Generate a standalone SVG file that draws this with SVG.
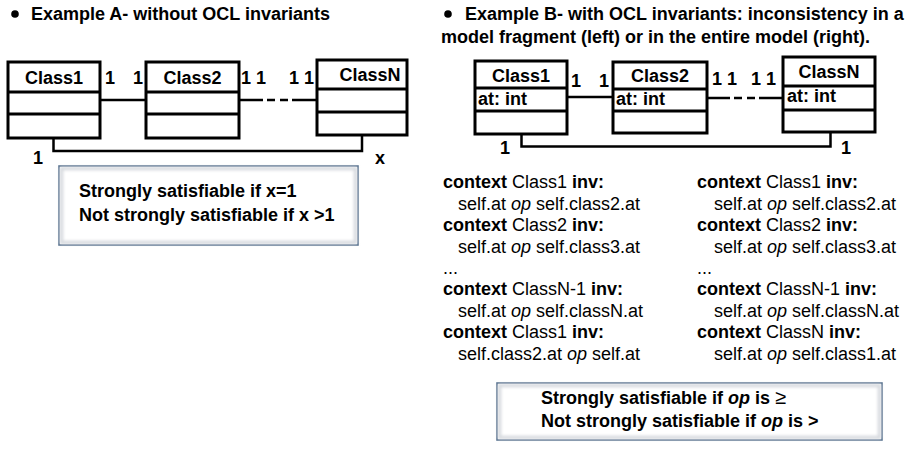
<svg xmlns="http://www.w3.org/2000/svg" width="913" height="451" viewBox="0 0 913 451">
  <style>
    text { font-family: "Liberation Sans", Arial, Helvetica, sans-serif; font-size: 18px; fill: #000; }
    .b { font-weight: bold; }
    .i { font-style: italic; }
    .mid { text-anchor: middle; }
    .cls { fill: #fff; stroke: #000; stroke-width: 3; }
    .sep { stroke: #000; stroke-width: 3; }
    .conn { fill: none; stroke: #000; stroke-width: 2.5; }
    .note { fill: #fff; stroke: #4a6585; stroke-width: 1.5; }
    .bevel { fill: none; stroke: #d6d9de; stroke-width: 3.5; filter: url(#soft); }
  </style>
  <defs>
    <filter id="soft" x="-5%" y="-20%" width="110%" height="140%">
      <feGaussianBlur stdDeviation="1.5"/>
    </filter>
  </defs>

  <rect width="913" height="451" fill="#fff"/>

  <!-- headings -->
  <g id="heading-a">
    <circle cx="15" cy="14" r="3.8" fill="#000"/>
    <text class="b" x="31" y="20">Example A- without OCL invariants</text>
  </g>
  <g id="heading-b">
    <circle cx="448" cy="14" r="3.8" fill="#000"/>
    <text class="b" x="465" y="20">Example B- with OCL invariants: inconsistency in a</text>
    <text class="b" x="441" y="43">model fragment (left) or in the entire model (right).</text>
  </g>

  <!-- connectors -->
  <g id="connectors">
    <path class="conn" d="M100 100 H146"/>
    <path class="conn" d="M239 100 H263 M267 100 H275 M280 100 H288 M292 100 H317"/>
    <path class="conn" d="M53.5 138 V151 H362 V135"/>
    <path class="conn" d="M567 97 H613"/>
    <path class="conn" d="M707 98 H730 M734 98 H742 M747 98 H755 M759 98 H783"/>
    <path class="conn" d="M521.5 134 V146.5 H830.5 V132"/>
  </g>

  <!-- Example A classes -->
  <g id="a-class1">
    <rect class="cls" x="8" y="62" width="92" height="76"/>
    <path class="sep" d="M8 92 H100 M8 114 H100"/>
    <text class="b mid" x="54" y="84">Class1</text>
  </g>
  <g id="a-class2">
    <rect class="cls" x="146" y="62" width="93" height="76"/>
    <path class="sep" d="M146 92 H239 M146 114 H239"/>
    <text class="b mid" x="192.5" y="84">Class2</text>
  </g>
  <g id="a-classN">
    <rect class="cls" x="317" y="60" width="90" height="75"/>
    <path class="sep" d="M317 89 H407 M317 112 H407"/>
    <text class="b mid" x="370" y="81">ClassN</text>
  </g>

  <!-- Example A multiplicities -->
  <g id="a-mult">
    <text class="b" x="105" y="84">1</text>
    <text class="b" x="133" y="84">1</text>
    <text class="b" x="241" y="84">1 1</text>
    <text class="b" x="289" y="84">1 1</text>
    <text class="b" x="33" y="164">1</text>
    <text class="b" x="375" y="164">x</text>
  </g>

  <!-- Example A note -->
  <g id="a-note">
    <rect class="note" x="59" y="166" width="299" height="79"/>
    <rect class="bevel" x="61.5" y="168.5" width="294" height="74"/>
    <text class="b" x="79" y="197">Strongly satisfiable if x=1</text>
    <text class="b" x="79" y="221">Not strongly satisfiable if x &gt;1</text>
  </g>

  <!-- Example B classes -->
  <g id="b-class1">
    <rect class="cls" x="475" y="61" width="92" height="73"/>
    <path class="sep" d="M475 88 H567 M475 111 H567"/>
    <text class="b mid" x="521" y="82">Class1</text>
    <text class="b" x="478" y="105">at: int</text>
  </g>
  <g id="b-class2">
    <rect class="cls" x="613" y="62" width="94" height="71"/>
    <path class="sep" d="M613 89 H707 M613 111 H707"/>
    <text class="b mid" x="660" y="82">Class2</text>
    <text class="b" x="616" y="105">at: int</text>
  </g>
  <g id="b-classN">
    <rect class="cls" x="783" y="57" width="92" height="75"/>
    <path class="sep" d="M783 86 H875 M783 110 H875"/>
    <text class="b mid" x="829" y="78">ClassN</text>
    <text class="b" x="787" y="102">at: int</text>
  </g>

  <!-- Example B multiplicities -->
  <g id="b-mult">
    <text class="b" x="571" y="87">1</text>
    <text class="b" x="599" y="87">1</text>
    <text class="b" x="712" y="85">1 1</text>
    <text class="b" x="751" y="85">1 1</text>
    <text class="b" x="500" y="154">1</text>
    <text class="b" x="841" y="154">1</text>
  </g>

  <!-- OCL invariants, fragment variant -->
  <g id="ocl-fragment">
    <text x="443" y="188"><tspan class="b">context</tspan> Class1 <tspan class="b">inv:</tspan></text>
    <text x="458" y="210">self.at <tspan class="i">op</tspan> self.class2.at</text>
    <text x="443" y="231"><tspan class="b">context</tspan> Class2 <tspan class="b">inv:</tspan></text>
    <text x="458" y="253">self.at <tspan class="i">op</tspan> self.class3.at</text>
    <text x="443" y="274">...</text>
    <text x="443" y="295"><tspan class="b">context</tspan> ClassN-1 <tspan class="b">inv:</tspan></text>
    <text x="458" y="317">self.at <tspan class="i">op</tspan> self.classN.at</text>
    <text x="443" y="338"><tspan class="b">context</tspan> Class1 <tspan class="b">inv:</tspan></text>
    <text x="458" y="360">self.class2.at <tspan class="i">op</tspan> self.at</text>
  </g>

  <!-- OCL invariants, whole-model variant -->
  <g id="ocl-model">
    <text x="697" y="188"><tspan class="b">context</tspan> Class1 <tspan class="b">inv:</tspan></text>
    <text x="714" y="210">self.at <tspan class="i">op</tspan> self.class2.at</text>
    <text x="697" y="231"><tspan class="b">context</tspan> Class2 <tspan class="b">inv:</tspan></text>
    <text x="714" y="253">self.at <tspan class="i">op</tspan> self.class3.at</text>
    <text x="697" y="274">...</text>
    <text x="697" y="295"><tspan class="b">context</tspan> ClassN-1 <tspan class="b">inv:</tspan></text>
    <text x="714" y="317">self.at <tspan class="i">op</tspan> self.classN.at</text>
    <text x="697" y="338"><tspan class="b">context</tspan> ClassN <tspan class="b">inv:</tspan></text>
    <text x="714" y="360">self.at <tspan class="i">op</tspan> self.class1.at</text>
  </g>

  <!-- Example B note -->
  <g id="b-note">
    <rect class="note" x="497" y="383" width="385" height="57"/>
    <rect class="bevel" x="499.5" y="385.5" width="380" height="52"/>
    <text class="b" x="541" y="404">Strongly satisfiable if <tspan class="i">op</tspan> is <tspan font-weight="normal" font-size="20px">≥</tspan></text>
    <text class="b" x="541" y="427">Not strongly satisfiable if <tspan class="i">op</tspan> is &gt;</text>
  </g>
</svg>
